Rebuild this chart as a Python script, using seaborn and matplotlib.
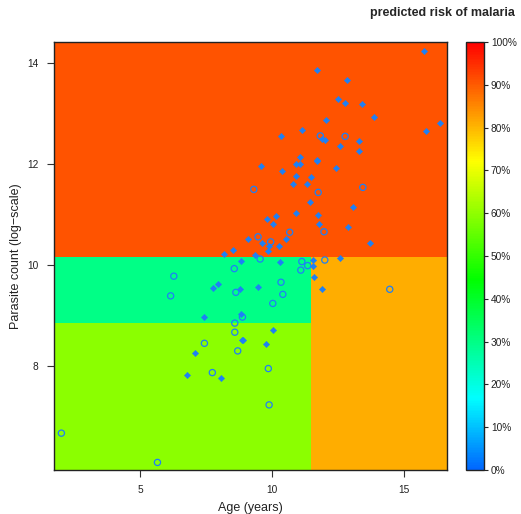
import numpy as np
import pandas as pd
import matplotlib
matplotlib.use("Agg")
import matplotlib.pyplot as plt
import seaborn as sns
from matplotlib.colors import ListedColormap, hsv_to_rgb
from matplotlib.ticker import FuncFormatter

# ---- data ----
# partition boundaries
age_edges = [1.74, 11.48, 16.63]
parasite_edges = [5.94, 8.85, 10.16, 14.42]
# predicted risk per region (rows: parasite bands low->high, cols: age bands)
region_risk = [[0.595, 0.81],
               [0.30, 0.81],
               [0.907, 0.907]]

# malaria cases (filled diamonds)
case_age = [15.76, 16.35, 15.83, 11.72, 12.83, 12.51, 12.75, 13.42, 13.85, 12.05,
            11.13, 10.34, 11.89, 12.02, 13.31, 12.58, 13.28, 11.05, 11.69, 11.69,
            10.91, 11.06, 9.57, 12.41, 10.38, 10.92, 11.48, 10.80, 11.31, 11.44,
            13.06, 10.15, 9.82, 10.91, 11.74, 10.05, 11.79, 12.88, 9.09, 9.62,
            10.52, 10.25, 9.89, 13.72, 8.51, 9.86, 9.36, 12.58, 8.18, 8.81,
            10.31, 11.55, 11.54, 11.60, 11.89, 8.79, 9.47, 7.77, 7.94, 7.42,
            8.83, 10.04, 8.85, 8.91, 9.76, 7.08, 6.77, 8.08]
case_parasite = [14.24, 12.81, 12.65, 13.86, 13.66, 13.29, 13.22, 13.20, 12.93, 12.87,
                 12.68, 12.56, 12.50, 12.48, 12.46, 12.36, 12.26, 12.14, 12.09, 12.06,
                 12.01, 12.01, 11.97, 11.93, 11.86, 11.77, 11.75, 11.60, 11.60, 11.25,
                 11.15, 10.98, 10.92, 11.03, 11.00, 10.81, 10.81, 10.75, 10.51, 10.44,
                 10.51, 10.38, 10.37, 10.43, 10.30, 10.27, 10.19, 10.14, 10.21, 10.09,
                 10.07, 10.10, 9.99, 9.77, 9.52, 9.52, 9.56, 9.55, 9.62, 8.98,
                 9.04, 8.71, 8.51, 8.51, 8.44, 8.26, 7.82, 7.76]

# non-cases (open circles)
ctrl_age = [11.83, 12.77, 9.31, 13.44, 11.75, 10.67, 11.97, 9.47, 9.95, 9.55,
            11.13, 11.09, 11.35, 12.00, 14.46, 10.34, 10.41, 10.03, 8.88, 8.70,
            9.86, 9.89, 8.57, 6.28, 6.16, 8.63, 8.59, 8.59, 7.44, 7.74,
            2.02, 5.66]
ctrl_parasite = [12.56, 12.55, 11.50, 11.54, 11.44, 10.65, 10.66, 10.56, 10.46, 10.12,
                 10.07, 9.90, 9.99, 10.10, 9.52, 9.66, 9.42, 9.24, 8.97, 8.30,
                 7.95, 7.23, 9.93, 9.78, 9.39, 9.46, 8.85, 8.67, 8.45, 7.87,
                 6.67, 6.09]

x_ticks = [5, 10, 15]
y_ticks = [8, 10, 12, 14]
cbar_ticks = [0, 0.1, 0.2, 0.3, 0.4, 0.5, 0.6, 0.7, 0.8, 0.9, 1.0]

# ---- style ----
sns.set_style("white")
plt.rcParams["font.family"] = ["Liberation Sans", "DejaVu Sans"]

# rainbow colormap: blue (0) -> red (1)
p = np.linspace(0, 1, 256)
hsv = np.stack([0.6 * (1 - p), np.ones_like(p), np.ones_like(p)], axis=1)
cmap = ListedColormap(hsv_to_rgb(hsv))

fig = plt.figure(figsize=(5.21, 5.14), dpi=100)
ax = fig.add_axes([0.1036, 0.0856, 0.7544, 0.8327])
cax = fig.add_axes([0.8944, 0.0856, 0.0345, 0.8327])

mesh = ax.pcolormesh(age_edges, parasite_edges, np.array(region_risk),
                     cmap=cmap, vmin=0, vmax=1, shading="flat")

blue = "#1E80F5"
sns.scatterplot(x=case_age, y=case_parasite, ax=ax, marker="D", s=10,
                color=blue, edgecolor=blue, linewidth=0.4, zorder=3)
sns.scatterplot(x=ctrl_age, y=ctrl_parasite, ax=ax, marker="o", s=20,
                facecolors="none", edgecolors=blue, linewidth=0.9, zorder=3)

ax.set_xlim(age_edges[0], age_edges[-1])
ax.set_ylim(parasite_edges[0], parasite_edges[-1])
ax.set_xticks(x_ticks)
ax.set_yticks(y_ticks)
ax.tick_params(axis="both", direction="out", length=5, width=0.8,
               labelsize=7.3, color="#333333", labelcolor="#222222", pad=6,
               left=True, bottom=True)
for s in ax.spines.values():
    s.set_visible(True)
    s.set_color("#222222")
    s.set_linewidth(1.0)
ax.set_xlabel("Age (years)", fontsize=9, labelpad=5, color="#222222")
ax.set_ylabel("Parasite count (log\u2212scale)", fontsize=9, labelpad=4, color="#222222")

cb = fig.colorbar(mesh, cax=cax, ticks=cbar_ticks)
cb.ax.yaxis.set_major_formatter(FuncFormatter(lambda v, _: f"{int(round(v*100))}%"))
cb.ax.tick_params(direction="out", length=3, width=0.8, labelsize=7.3, pad=2,
                  labelcolor="#222222")
cb.outline.set_edgecolor("#222222")
cb.outline.set_linewidth(1.0)

fig.text(0.9885, 0.975, "predicted risk of malaria", ha="right", va="center",
         fontsize=9, fontweight="bold")

fig.savefig("out.png", dpi=100)
